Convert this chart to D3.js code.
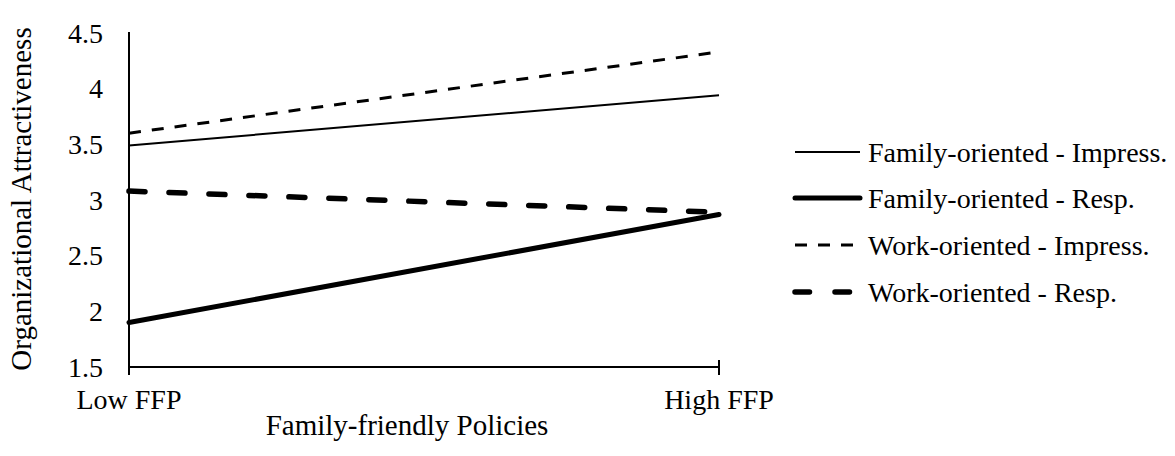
<!DOCTYPE html>
<html><head><meta charset="utf-8">
<script src="https://cdn.jsdelivr.net/npm/d3@7"></script>
</head><body><svg id="c" width="1175" height="456" style="position:absolute;left:0;top:0"></svg>
<script>
const categories = ["Low FFP", "High FFP"];
const yTicks = [1.5, 2, 2.5, 3, 3.5, 4, 4.5];
const seriesNames = ["Family-oriented - Impress.", "Family-oriented - Resp.", "Work-oriented - Impress.", "Work-oriented - Resp."];
const familyImpress = [3.49, 3.94];
const familyResp = [1.90, 2.87];
const workImpress = [3.60, 4.33];
const workResp = [3.08, 2.89];
const seriesValues = [familyImpress, familyResp, workImpress, workResp];
const styles = [
  {w: 2, dash: null, legDash: null, cap: "butt"},
  {w: 5, dash: null, legDash: null, cap: "round"},
  {w: 3, dash: "12,11", legDash: "12,11", cap: "butt"},
  {w: 5.5, dash: "16,24", legDash: "14.5,25.5", cap: "round"}
];

const svg = d3.select("#c");
const x = d3.scalePoint().domain(categories).range([129, 719]);
const y = d3.scaleLinear().domain([1.5, 4.5]).range([367, 33]);

function txt(sel, size) {
  return sel.attr("font-family", "Times New Roman").style("font-family", "'Times New Roman'").attr("font-size", size);
}

// y axis
svg.append("line").attr("x1", 129).attr("x2", 129).attr("y1", y(4.5) - 1).attr("y2", 375).attr("stroke", "#000").attr("stroke-width", 2);
txt(svg.selectAll(".yt").data(yTicks).enter().append("text"), 28)
  .attr("x", 103).attr("y", d => y(d)).attr("dy", "0.35em")
  .attr("text-anchor", "end").text(d => d);
// x axis
svg.append("line").attr("x1", 129).attr("x2", 719).attr("y1", y(1.5)).attr("y2", y(1.5)).attr("stroke", "#000").attr("stroke-width", 2);
svg.append("line").attr("x1", 719).attr("x2", 719).attr("y1", 360).attr("y2", 375).attr("stroke", "#000").attr("stroke-width", 2);
txt(svg.selectAll(".xt").data(categories).enter().append("text"), 28)
  .attr("x", d => x(d)).attr("y", 409).attr("text-anchor", "middle").text(d => d);

txt(svg.append("text"), 29).attr("x", 407).attr("y", 435).attr("text-anchor", "middle").text("Family-friendly Policies");
txt(svg.append("text"), 29).attr("transform", "translate(31,199) rotate(-90)").attr("text-anchor", "middle").text("Organizational Attractiveness");

const line = d3.line().x((d, i) => x(categories[i])).y(d => y(d));
seriesValues.forEach((vals, i) => {
  const s = styles[i];
  const p = svg.append("path").attr("d", line(vals)).attr("fill", "none").attr("stroke", "#000")
    .attr("stroke-width", s.w).attr("stroke-linecap", s.cap);
  if (s.dash) p.attr("stroke-dasharray", s.dash);
});

// legend
const legY = [152, 198, 245, 292];
seriesNames.forEach((n, i) => {
  const s = styles[i];
  const l = svg.append("line").attr("x1", 795).attr("x2", 860).attr("y1", legY[i]).attr("y2", legY[i])
    .attr("stroke", "#000").attr("stroke-width", s.w).attr("stroke-linecap", s.cap);
  if (s.legDash) l.attr("stroke-dasharray", s.legDash);
  txt(svg.append("text"), 28).attr("x", 868).attr("y", legY[i]).attr("dy", "0.35em").text(n);
});
</script></body></html>
